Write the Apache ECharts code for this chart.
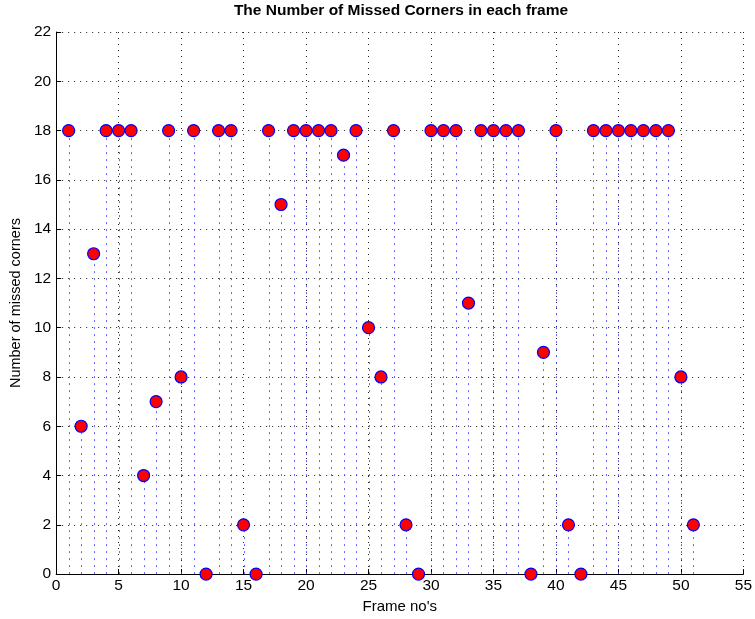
<!DOCTYPE html>
<html>
<head>
<meta charset="utf-8">
<script src="https://cdn.jsdelivr.net/npm/echarts@6/dist/echarts.min.js"></script>
<style>html,body{margin:0;padding:0;background:#fff}#c{width:755px;height:619px}</style>
</head>
<body>
<div id="c"></div>
<script>
const frames = [1,2,3,4,5,6,7,8,9,10,11,12,13,14,15,16,17,18,19,20,21,22,23,24,25,26,27,28,29,30,31,32,33,34,35,36,37,38,39,40,41,42,43,44,45,46,47,48,49,50,51];
const missed = [18,6,13,18,18,18,4,7,18,8,18,0,18,18,2,0,18,15,18,18,18,18,17,18,10,8,18,2,0,18,18,18,11,18,18,18,18,0,9,18,2,0,18,18,18,18,18,18,18,8,2];
const xTicks = {min:0, max:55, interval:5};
const yTicks = {min:0, max:22, interval:2};

const pts = frames.map((f,i)=>[f, missed[i]]);
const FONT = '"Liberation Sans", Arial, Helvetica, sans-serif';
const chart = echarts.init(document.getElementById('c'), null, {renderer:'canvas'});
chart.setOption({
  animation:false,
  backgroundColor:'#fff',
  title:{
    text:'The Number of Missed Corners in each frame',
    left:401, top:3, padding:0, textAlign:'center',
    textStyle:{fontFamily:FONT, fontSize:15.5, fontWeight:'bold', color:'#000'}
  },
  grid:{left:55, right:8, top:32, bottom:42, containLabel:false},
  xAxis:{
    type:'value', min:xTicks.min, max:xTicks.max, interval:xTicks.interval,
    name:"Frame no's", nameLocation:'middle', nameGap:24,
    nameTextStyle:{fontFamily:FONT, fontSize:15, color:'#000'},
    axisLine:{onZero:false, lineStyle:{color:'#000', width:1}},
    axisTick:{inside:true, length:5, lineStyle:{color:'#000'}},
    axisLabel:{fontFamily:FONT, fontSize:15.5, color:'#000', margin:4},
    splitLine:{show:true, lineStyle:{color:'#222', type:[1,5], width:1}}
  },
  yAxis:{
    type:'value', min:yTicks.min, max:yTicks.max, interval:yTicks.interval,
    name:'Number of missed corners', nameLocation:'middle', nameGap:29,
    nameTextStyle:{fontFamily:FONT, fontSize:14.5, color:'#000'},
    axisLine:{show:true, onZero:false, lineStyle:{color:'#000', width:1}},
    axisTick:{show:true, inside:true, length:5, lineStyle:{color:'#000'}},
    axisLabel:{fontFamily:FONT, fontSize:15.5, color:'#000', margin:5},
    splitLine:{show:true, lineStyle:{color:'#222', type:[1,5], width:1}}
  },
  series:[
    {
      type:'custom',
      data:pts,
      silent:true,
      z:2,
      renderItem:function(params, api){
        const x = api.value(0), y = api.value(1);
        const p0 = api.coord([x, 0]);
        const p1 = api.coord([x, y]);
        const px = Math.round(p0[0]) + 0.5;
        return {
          type:'line',
          shape:{x1:px, y1:p0[1], x2:px, y2:p1[1]},
          style:{stroke:'#3d3dff', lineWidth:1, lineDash:[2,5], opacity:0.8}
        };
      }
    },
    {
      type:'scatter',
      data:pts,
      symbol:'circle',
      symbolSize:12,
      z:3,
      itemStyle:{color:'#ff0000', borderColor:'#0000ff', borderWidth:1.2, opacity:1}
    }
  ]
});
</script>
</body>
</html>
